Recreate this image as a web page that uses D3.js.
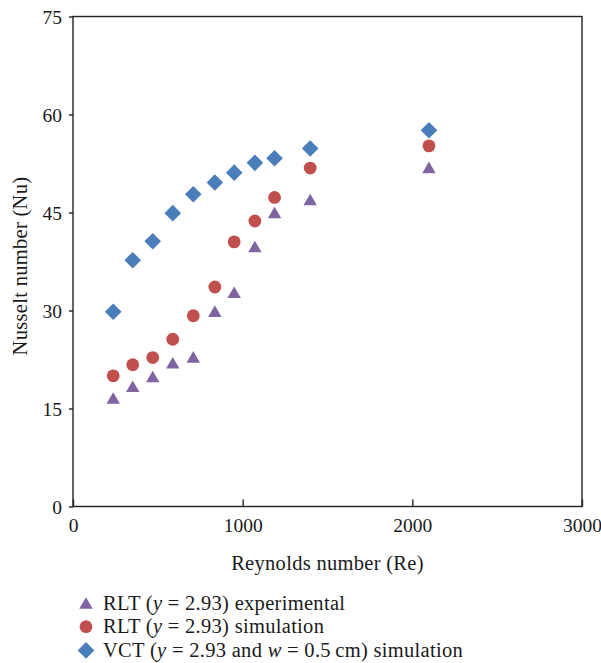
<!DOCTYPE html>
<html>
<head>
<meta charset="utf-8">
<script src="https://cdn.jsdelivr.net/npm/d3@7"></script>
<style>
  html, body { margin: 0; padding: 0; background: #fff; }
  svg { display: block; }
  text { font-family: "Liberation Serif", "Times New Roman", serif; fill: #1a1a1a; }
</style>
</head>
<body>
<svg id="chart" width="601" height="663"></svg>
<script>
// Reynolds numbers of the measurement points
const reynolds = [237, 352, 470, 588, 709, 836, 950, 1072, 1188, 1398, 2098];
// Nusselt numbers per series
const rltExperimental = [16.6, 18.4, 19.9, 22.0, 22.9, 29.9, 32.8, 39.8, 45.0, 47.0, 51.9];
const rltSimulation   = [20.0, 21.7, 22.8, 25.6, 29.2, 33.6, 40.5, 43.7, 47.3, 51.8, 55.2];
const vctSimulation   = [29.8, 37.7, 40.6, 44.9, 47.8, 49.6, 51.1, 52.6, 53.3, 54.8, 57.6];
const xTicks = [0, 1000, 2000, 3000];
const yTicks = [0, 15, 30, 45, 60, 75];

// Marker shapes, each centred on its bounding box
const triangleMarker = (w) => {
  const h = w * Math.sqrt(3) / 2;
  return `M0,${-h / 2}L${w / 2},${h / 2}L${-w / 2},${h / 2}Z`;
};
const diamondMarker = (w) => `M0,${-w / 2}L${w / 2},0L0,${w / 2}L${-w / 2},0Z`;
const circleMarker = (d) => d3.symbol().type(d3.symbolCircle).size(Math.PI * d * d / 4)();

const series = [
  { name: "rlt-exp", values: rltExperimental, marker: triangleMarker(13.4), color: "#8064a2",
    label: ["RLT (", "y", " = 2.93) experimental"] },
  { name: "rlt-sim", values: rltSimulation, marker: circleMarker(12.8), color: "#c0504d",
    label: ["RLT (", "y", " = 2.93) simulation"] },
  { name: "vct-sim", values: vctSimulation, marker: diamondMarker(16.6), color: "#4a7ebb",
    label: ["VCT (", "y", " = 2.93 and ", "w", " = 0.5\u2009cm) simulation"] }
];

const svg = d3.select("#chart");
const plot = { left: 73, right: 582, top: 16.5, bottom: 506.5 };

const x = d3.scaleLinear().domain([0, 3000]).range([plot.left, plot.right]);
const y = d3.scaleLinear().domain([0, 75]).range([plot.bottom, plot.top]);

const axisColor = "#222";
const labelFont = "20.5px";

// Frame
svg.append("rect")
  .attr("x", plot.left).attr("y", plot.top)
  .attr("width", plot.right - plot.left).attr("height", plot.bottom - plot.top)
  .attr("fill", "none").attr("stroke", axisColor).attr("stroke-width", 1.4);

// X axis: ticks point inward
const xAxis = svg.append("g")
  .attr("transform", `translate(0,${plot.bottom})`)
  .call(d3.axisBottom(x).tickValues(xTicks).tickSize(-7).tickPadding(12).tickFormat(d3.format("d")));
xAxis.select(".domain").remove();
xAxis.selectAll("line").attr("stroke", axisColor).attr("stroke-width", 1.4);
xAxis.selectAll("text").style("font-size", "19.5px").attr("fill", "#1a1a1a");

// Y axis: ticks point outward
const yAxis = svg.append("g")
  .attr("transform", `translate(${plot.left},0)`)
  .call(d3.axisLeft(y).tickValues(yTicks).tickSize(4).tickPadding(7));
yAxis.select(".domain").remove();
yAxis.selectAll("line").attr("stroke", axisColor).attr("stroke-width", 1.4);
yAxis.selectAll("text").style("font-size", "19.5px").attr("fill", "#1a1a1a").attr("dy", "0.35em");

// Axis titles
svg.append("text")
  .attr("x", (plot.left + plot.right) / 2).attr("y", 570)
  .attr("text-anchor", "middle").style("font-size", labelFont).style("letter-spacing", "0.3px")
  .text("Reynolds number (Re)");

svg.append("text")
  .attr("transform", `translate(27,266) rotate(-90)`)
  .attr("text-anchor", "middle").style("font-size", labelFont).style("letter-spacing", "0.3px")
  .text("Nusselt number (Nu)");

// Points
series.forEach(s => {
  svg.append("g").attr("class", s.name)
    .selectAll("path")
    .data(s.values.map((v, i) => [reynolds[i], v]))
    .join("path")
    .attr("d", s.marker)
    .attr("transform", d => `translate(${x(d[0])},${y(d[1])})`)
    .attr("fill", s.color);
});

// Legend
const legend = svg.append("g").attr("transform", "translate(86,603)");
series.forEach((s, i) => {
  const row = legend.append("g").attr("transform", `translate(0,${i * 23.7})`);
  row.append("path").attr("d", s.marker).attr("fill", s.color);
  const t = row.append("text").attr("x", 17).attr("y", 6.5)
    .style("font-size", labelFont).style("letter-spacing", "0.3px");
  s.label.forEach(part => {
    const span = t.append("tspan").text(part);
    if (part === "y" || part === "w") span.style("font-style", "italic");
  });
});
</script>
</body>
</html>
